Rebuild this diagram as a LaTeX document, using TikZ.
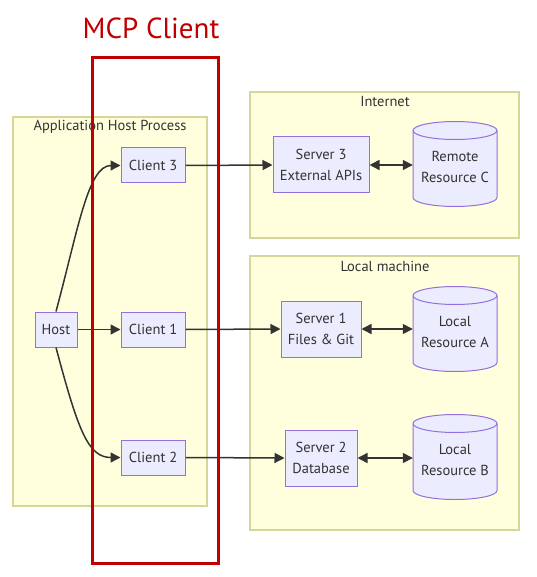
\documentclass[tikz,border=0pt]{standalone}
\usepackage{fontspec}
\setmainfont{PT Sans}
\usetikzlibrary{arrows.meta}
\definecolor{grpfill}{HTML}{FFFFDE}
\definecolor{grpline}{HTML}{D6D69A}
\definecolor{nodefill}{HTML}{ECECFF}
\definecolor{nodeline}{HTML}{9370DB}
\definecolor{txt}{HTML}{333333}
\definecolor{mcpred}{HTML}{C00000}
\tikzset{
  grp/.style={draw=grpline, fill=grpfill, line width=1.2pt},
  grplabel/.style={text=txt, font=\fontsize{14.5}{16}\selectfont, inner sep=0pt},
  box/.style={draw=nodeline, fill=nodefill, line width=1pt, text=txt, align=center,
    font=\fontsize{14.5}{21}\selectfont, inner sep=0pt},
  cyl/.style={draw=nodeline, fill=nodefill, line width=1pt},
  cyltext/.style={text=txt, align=center, font=\fontsize{14.5}{21}\selectfont, inner sep=0pt},
  conn/.style={draw=txt, line width=1.5pt, -{Triangle[length=10pt,width=10pt]}},
  biconn/.style={draw=txt, line width=1.5pt, {Triangle[length=10pt,width=10pt]}-{Triangle[length=10pt,width=10pt]}},
}
\begin{document}
\begin{tikzpicture}[x=1pt,y=1pt]
\useasboundingbox (0,0) rectangle (536,-577);
\fill[white] (0,0) rectangle (536,-577);
% groups
\draw[grp] (13,-117) rectangle (207,-506);
\node[grplabel] (lblapp) at (110,-127) {Application Host Process};
\draw[grp] (250,-92) rectangle (519,-238);
\node[grplabel] (lblnet) at (385,-102) {Internet};
\draw[grp] (250,-256) rectangle (519,-530);
\node[grplabel] (lbllocal) at (385,-266) {Local machine};
% nodes
\node[box, minimum width=42pt, minimum height=35pt] (host) at (56,-329.5) {Host};
\node[box, minimum width=64pt, minimum height=35pt] (c3) at (153,-165.5) {Client 3};
\node[box, minimum width=64pt, minimum height=35pt] (c1) at (153,-329.5) {Client 1};
\node[box, minimum width=64pt, minimum height=35pt] (c2) at (153,-457.5) {Client 2};
\node[box, minimum width=96pt, minimum height=56pt] (s3) at (321,-165) {Server 3\\External APIs};
\node[box, minimum width=80pt, minimum height=56pt] (s1) at (321,-329) {Server 1\\Files \& Git};
\node[box, minimum width=72pt, minimum height=56pt] (s2) at (321,-458) {Server 2\\Database};
% cylinders
\foreach \n/\cy/\la/\lb in {rc/164/Remote/Resource C, ra/329/Local/Resource A, rb/457/Local/Resource B}{
  \path[cyl] (413,-\cy+33.5) -- (413,-\cy-33.5) arc[start angle=180, end angle=360, x radius=42, y radius=9]
     -- (497,-\cy+33.5) arc[start angle=0, end angle=180, x radius=42, y radius=9] -- cycle;
  \draw[cyl, fill=none] (413,-\cy+33.5) arc[start angle=180, end angle=360, x radius=42, y radius=9];
  \node[cyltext, minimum width=84pt, minimum height=60pt] (\n) at (455,-\cy-3) {\la\\\lb};
}
% connectors
\draw[conn] (host.north) .. controls (78,-230) and (88,-165.5) .. (c3.west);
\draw[conn] (host.east) -- (c1.west);
\draw[conn] (host.south) .. controls (78,-430) and (88,-457.5) .. (c2.west);
\draw[conn] (c3.east) -- (s3.west);
\draw[conn] (c1.east) -- (s1.west);
\draw[conn] (c2.east) -- (s2.west);
\draw[biconn] (s3.east) -- (rc.west |- s3.east);
\draw[biconn] (s1.east) -- (ra.west |- s1.east);
\draw[biconn] (s2.east) -- (rb.west |- s2.east);
% MCP client highlight
\draw[mcpred, line width=3pt] (92,-58) rectangle (218,-563);
\node[text=mcpred, font=\fontsize{29}{32}\selectfont, inner sep=0pt] (title) at (151,-28) {MCP Client};
\end{tikzpicture}
\end{document}
